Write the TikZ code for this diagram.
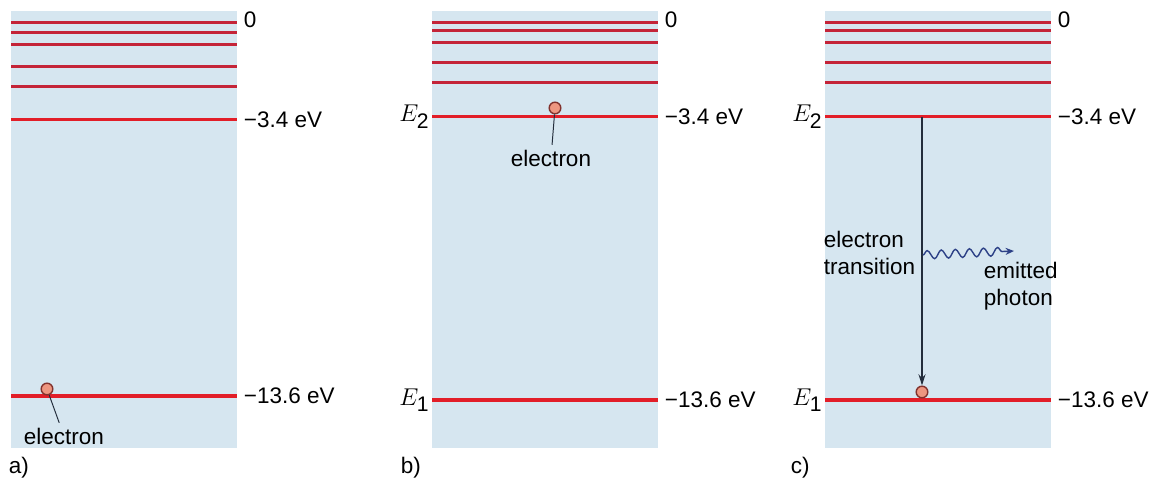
\documentclass[tikz,border=0pt]{standalone}
\usepackage{fontspec}
\setmainfont{Liberation Sans}
\usetikzlibrary{positioning, calc, decorations.pathmorphing, arrows.meta}
\definecolor{sfondo}{RGB}{214,230,240}
\definecolor{rosso}{RGB}{226,30,40}
\definecolor{rossoscuro}{RGB}{196,36,56}
\definecolor{pelle}{RGB}{238,150,128}
\definecolor{bordoel}{RGB}{130,50,45}
\definecolor{blu}{RGB}{45,65,135}
\definecolor{nero}{RGB}{35,45,60}

\begin{document}
\begin{tikzpicture}[x=0.025cm, y=-0.025cm, font=\fontsize{16}{19}\selectfont,
    livello/.style={line width=2.2pt, draw=rosso},
    alto/.style={line width=2.2pt, draw=rossoscuro},
    elettrone/.style={circle, draw=bordoel, fill=pelle, line width=1pt, minimum size=0.29cm, inner sep=0pt},
    puntatore/.style={draw=nero, line width=0.7pt},
    etichetta/.style={anchor=west},
    energia/.style={anchor=east, inner sep=1pt, font=\fontsize{18}{20}\selectfont}]
    \useasboundingbox (0,0) rectangle (1158,484);
    %pannello a
    \fill[sfondo] (11,11) rectangle (237,448);
    \foreach \y in {22.7,32.7,44.3,66.7,86.7} \draw[alto] (11,\y) -- (237,\y);
    \draw[livello] (11,119.3) -- (237,119.3);
    \draw[livello] (11,396) -- (237,396);
    \node[etichetta] (a0) at (239,20) {0};
    \node[etichetta] (a34) at (239,119.3) {−3.4 eV};
    \node[etichetta] (a136) at (239,396) {−13.6 eV};
    \node[elettrone] (ea) at (47,389) {};
    \node (la) at (64,436) {electron};
    \draw[puntatore] (ea) -- (la);
    \node[etichetta] (pa) at (4,468) {a)};
    %pannello b
    \fill[sfondo] (432,11) rectangle (658,448);
    \foreach \y in {22.7,30.5,42.3,62.3,82.3} \draw[alto] (432,\y) -- (658,\y);
    \draw[livello] (432,116.7) -- (658,116.7);
    \draw[livello] (432,400) -- (658,400);
    \node[etichetta] (b0) at (660,20) {0};
    \node[etichetta] (b34) at (660,116.7) {−3.4 eV};
    \node[etichetta] (b136) at (660,400) {−13.6 eV};
    \node[energia] (bE2) at (431,116.7) {$E_{\mbox{\fontsize{15}{15}\selectfont 2}}$};
    \node[energia] (bE1) at (431,400) {$E_{\mbox{\fontsize{15}{15}\selectfont 1}}$};
    \node[elettrone] (eb) at (555,108) {};
    \node (lb) at (551,158) {electron};
    \draw[puntatore] (eb) -- (lb);
    \node[etichetta] (pb) at (396,468) {b)};
    %pannello c
    \fill[sfondo] (825,11) rectangle (1051,448);
    \foreach \y in {22.7,30.5,42.3,62.3,82.3} \draw[alto] (825,\y) -- (1051,\y);
    \draw[livello] (825,116.7) -- (1051,116.7);
    \draw[livello] (825,400) -- (1051,400);
    \node[etichetta] (c0) at (1053,20) {0};
    \node[etichetta] (c34) at (1053,116.7) {−3.4 eV};
    \node[etichetta] (c136) at (1053,400) {−13.6 eV};
    \node[energia] (cE2) at (824,116.7) {$E_{\mbox{\fontsize{15}{15}\selectfont 2}}$};
    \node[energia] (cE1) at (824,400) {$E_{\mbox{\fontsize{15}{15}\selectfont 1}}$};
    %transizione
    \coordinate (c2) at (922,116.7);
    \node[elettrone] (ec) at (922,392) {};
    \draw[draw=nero, line width=0.9pt, -{Stealth[length=8pt,width=5pt]}] (c2) -- (ec);
    \node[etichetta, align=left] (lt) at (819,253) {electron\\transition};
    %fotone emesso
    \coordinate (f0) at (923,255);
    \coordinate (f1) at (1014,251);
    \draw[blu, line width=1pt, -{Stealth[length=6pt,width=5pt]}, decorate,
        decoration={snake, amplitude=3pt, segment length=10pt, post length=7pt}] (f0) -- (f1);
    \node[etichetta, align=left] (le) at (979,286) {emitted\\photon};
    \node[etichetta] (pc) at (786,468) {c)};
\end{tikzpicture}
\end{document}
